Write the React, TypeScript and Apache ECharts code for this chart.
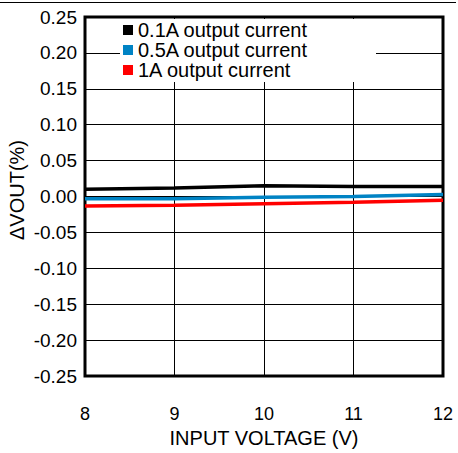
import React, { useEffect, useRef } from "react";
import * as echarts from "echarts";

const inputVoltage = [8, 9, 10, 11, 12];
const current01A = [0.010, 0.012, 0.015, 0.014, 0.014];
const current05A = [-0.003, -0.003, -0.001, 0.0, 0.003];
const current1A = [-0.013, -0.012, -0.010, -0.008, -0.005];
const seriesNames = ["0.1A output current", "0.5A output current", "1A output current"];
const seriesColors = ["#000000", "#0083c4", "#ff0000"];

const FONT = "'Liberation Sans', Arial, Helvetica, sans-serif";

export default function App() {
  const ref = useRef<HTMLDivElement>(null);
  useEffect(() => {
    if (!ref.current) return;
    const chart = echarts.init(ref.current, null, { renderer: "svg" });
    const all = [current01A, current05A, current1A];
    chart.setOption({
      animation: false,
      backgroundColor: "#ffffff",
      textStyle: { fontFamily: FONT },
      grid: {
        left: 85,
        right: 15,
        top: 17,
        bottom: 75,
        show: true,
        borderColor: "#000",
        borderWidth: 3,
        backgroundColor: "transparent",
      },
      xAxis: {
        type: "value",
        min: 8,
        max: 12,
        interval: 1,
        name: "INPUT VOLTAGE (V)",
        nameLocation: "middle",
        nameGap: 51,
        nameTextStyle: { fontSize: 20, color: "#000", fontFamily: FONT },
        axisLine: { show: false },
        axisTick: { show: false },
        axisLabel: { fontSize: 18, color: "#000", margin: 29, fontFamily: FONT },
        splitLine: { show: true, lineStyle: { color: "#000", width: 1 } },
      },
      yAxis: {
        type: "value",
        min: -0.25,
        max: 0.25,
        interval: 0.05,
        axisLine: { show: false },
        axisTick: { show: false },
        axisLabel: {
          fontSize: 19,
          color: "#000",
          margin: 8,
          fontFamily: FONT,
          formatter: (v: number) => (Math.abs(v) < 1e-9 ? "0.00" : v.toFixed(2)),
        },
        splitLine: { show: true, lineStyle: { color: "#000", width: 1 } },
      },
      legend: {
        show: true,
        orient: "vertical",
        left: 123,
        top: 20,
        padding: 0,
        itemGap: 0,
        itemWidth: 10,
        itemHeight: 10,
        icon: "rect",
        z: 10,
        textStyle: { fontSize: 20, color: "#000", fontFamily: FONT, lineHeight: 19.5 },
        data: seriesNames.map((n) => ({ name: n, icon: "rect" })),
      },
      graphic: [
        {
          type: "rect",
          z: 5,
          shape: { x: 120, y: 19, width: 256, height: 63 },
          style: { fill: "#fff" },
        },
        {
          type: "line",
          z: 5,
          shape: { x1: 0, y1: 2.5, x2: 456, y2: 2.5 },
          style: { stroke: "#000", lineWidth: 1 },
        },
        {
          type: "text",
          x: 17,
          y: 190,
          rotation: Math.PI / 2,
          style: {
            text: "ΔVOUT(%)",
            font: `20px ${FONT}`,
            fill: "#000",
            textAlign: "center",
            textVerticalAlign: "middle",
            align: "center",
            verticalAlign: "middle",
          },
        },
      ],
      series: seriesNames.map((name, i) => ({
        name,
        type: "line",
        showSymbol: false,
        symbol: "none",
        lineStyle: { color: seriesColors[i], width: 3.5 },
        itemStyle: { color: seriesColors[i] },
        data: inputVoltage.map((x, j) => [x, all[i][j]]),
        z: 3 + (2 - i),
      })),
    });
    return () => chart.dispose();
  }, []);
  return (
    <div
      ref={ref}
      style={{ position: "fixed", left: 0, top: 0, width: 458, height: 453 }}
    />
  );
}
